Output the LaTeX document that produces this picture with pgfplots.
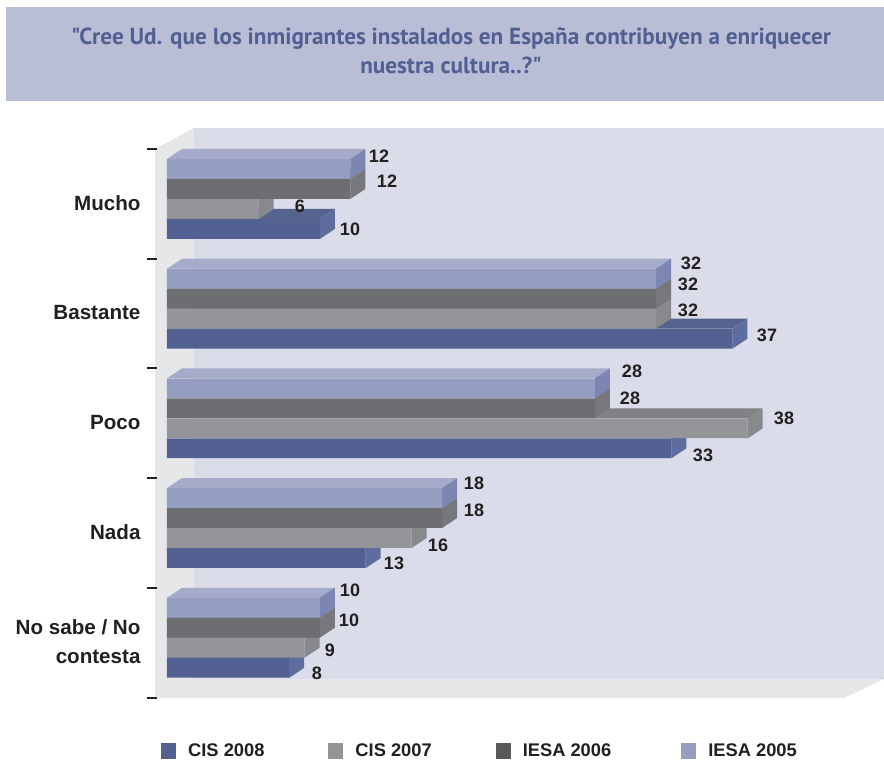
\documentclass[border=0pt]{standalone}
\usepackage{fontspec}
\usepackage{pgfplots}
\usepackage{pgfplotstable}
\pgfplotsset{compat=1.18}
\setmainfont{Liberation Sans}
\newfontfamily\titlefont{PT Sans}

\definecolor{band}{HTML}{B9BDD6}
\definecolor{titleblue}{HTML}{525F92}
\definecolor{wall}{HTML}{DADCEA}
\definecolor{floorgray}{HTML}{E6E7E8}
\definecolor{ink}{HTML}{231F20}
\definecolor{frontA}{HTML}{526092}
\definecolor{topA}{HTML}{56638F}
\definecolor{sideA}{HTML}{5F6C9E}
\definecolor{frontB}{HTML}{939598}
\definecolor{topB}{HTML}{808285}
\definecolor{sideB}{HTML}{87898C}
\definecolor{frontC}{HTML}{6D6E71}
\definecolor{topC}{HTML}{6D6E71}
\definecolor{sideC}{HTML}{77787B}
\definecolor{frontD}{HTML}{959EC0}
\definecolor{topD}{HTML}{A6ABC9}
\definecolor{sideD}{HTML}{7D86B0}
\definecolor{swatchC}{HTML}{58595B}

% one table per series, row = category
\pgfplotstableread{
cat val
0 10
1 37
2 33
3 13
4 8
}\cisoeight
\pgfplotstableread{
cat val
0 6
1 32
2 38
3 16
4 9
}\cisoseven
\pgfplotstableread{
cat val
0 12
1 32
2 28
3 18
4 10
}\iesaosix
\pgfplotstableread{
cat val
0 12
1 32
2 28
3 18
4 10
}\iesaofive

% 3d faces of one series: table, shift in px, top colour, side colour
\newcommand{\faces}[4]{%
  \pgfplotsinvokeforeach{0,...,4}{%
    \pgfplotstablegetelem{##1}{val}\of{#1}%
    \pgfmathsetmacro{\xa}{\pgfplotsretval}%
    \pgfmathsetmacro{\xb}{\xa+15/15.28}%
    \pgfmathsetmacro{\dd}{15/15.28}%
    \pgfmathsetmacro{\yt}{##1+(#2-10)/109.7}%
    \pgfmathsetmacro{\yb}{##1+(#2+10)/109.7}%
    \pgfmathsetmacro{\ytt}{\yt-10/109.7}%
    \pgfmathsetmacro{\ybb}{\yb-10/109.7}%
    \addplot[fill=#3,draw=none,forget plot] coordinates {(0,\yt) (\xa,\yt) (\xb,\ytt) (\dd,\ytt)} -- cycle;
    \addplot[fill=#4,draw=none,forget plot] coordinates {(\xa,\yt) (\xb,\ytt) (\xb,\ybb) (\xa,\yb)} -- cycle;
  }%
}

\begin{document}
\begin{tikzpicture}
\begin{scope}[x=1pt,y=-1pt,shift={(0pt,761pt)}]
\path[use as bounding box] (0,0) rectangle (884,761);
\fill[band] (6,7) rectangle (884,101);
\fill[wall] (194,128) rectangle (884,679);
\fill[floorgray] (155,149) -- (194,128) -- (194,679) -- (884,679) -- (844,698) -- (155,698) -- cycle;
\end{scope}

\begin{axis}[
    at={(157pt,63pt)},
    anchor=south west,
    scale only axis,
    width=727pt,
    height=570pt,
    xmin=-0.654, xmax=46.92,
    ymin=-0.647, ymax=4.549,
    y dir=reverse,
    axis x line=none,
    axis y line=left,
    y axis line style={draw=none},
    ytick={0,1,2,3,4},
    yticklabels={Mucho,Bastante,Poco,Nada,{No sabe / No\\contesta}},
    minor ytick={-0.456,0.547,1.541,2.543,3.546,4.549},
    major tick length=0pt,
    minor tick length=10pt,
    tick align=outside,
    minor tick style={draw=ink,line width=1.8pt},
    yticklabel style={font=\fontsize{20.6}{29}\selectfont\bfseries,text=ink,align=right,xshift=-13pt,yshift=-4pt},
    clip=false,
    legend columns=4,
    legend cell align=left,
    legend style={at={(0.0055,-0.093)},anchor=west,draw=none,fill=none,inner sep=0pt,
      font=\fontsize{18.3}{20}\selectfont\bfseries,text=ink,
      /tikz/every odd column/.append style={column sep=10pt},
      /tikz/every even column/.append style={column sep=62pt}},
]
\faces{\cisoeight}{30}{topA}{sideA}
\addplot[xbar,bar width=19.7pt,bar shift=-30pt,fill=frontA,draw=none,legend image code/.code={\fill[frontA] (0pt,-8pt) rectangle (15pt,8pt);}] table[x=val,y=cat] {\cisoeight};
\addlegendentry{CIS 2008}
\faces{\cisoseven}{10}{topB}{sideB}
\addplot[xbar,bar width=19.7pt,bar shift=-10pt,fill=frontB,draw=none,legend image code/.code={\fill[frontB] (0pt,-8pt) rectangle (15pt,8pt);}] table[x=val,y=cat] {\cisoseven};
\addlegendentry{CIS 2007}
\faces{\iesaosix}{-10}{topC}{sideC}
\addplot[xbar,bar width=19.7pt,bar shift=10pt,fill=frontC,draw=none,legend image code/.code={\fill[swatchC] (0pt,-8pt) rectangle (15pt,8pt);}] table[x=val,y=cat] {\iesaosix};
\addlegendentry{IESA 2006\rule{6pt}{0pt}}
\faces{\iesaofive}{-30}{topD}{sideD}
\addplot[xbar,bar width=19.7pt,bar shift=30pt,fill=frontD,draw=none,legend image code/.code={\fill[frontD] (0pt,-8pt) rectangle (15pt,8pt);}] table[x=val,y=cat] {\iesaofive};
\addlegendentry{IESA 2005}
\end{axis}

\begin{scope}[x=1pt,y=-1pt,shift={(0pt,761pt)}]
\node[anchor=base,font=\titlefont\fontsize{23.2}{26}\selectfont\bfseries,text=titleblue] at (451,45) {"Cree Ud. que los inmigrantes instalados en España contribuyen a enriquecer};
\node[anchor=base,font=\titlefont\fontsize{23.2}{26}\selectfont\bfseries,text=titleblue] at (451,74) {nuestra cultura..?"};
\tikzset{val/.style={font=\fontsize{18}{20}\selectfont\bfseries,text=ink,inner sep=0pt}}
\node[val] at (379,156) {12};
\node[val] at (387,181) {12};
\node[val] at (300,206) {6};
\node[val] at (350,229) {10};
\node[val] at (691,263) {32};
\node[val] at (688,284) {32};
\node[val] at (688,310) {32};
\node[val] at (767,335) {37};
\node[val] at (632,371) {28};
\node[val] at (630,398) {28};
\node[val] at (784,418) {38};
\node[val] at (703,455) {33};
\node[val] at (474,483) {18};
\node[val] at (474,510) {18};
\node[val] at (438,545) {16};
\node[val] at (394,563) {13};
\node[val] at (350,590) {10};
\node[val] at (349,620) {10};
\node[val] at (330,650) {9};
\node[val] at (317,673) {8};
\end{scope}
\end{tikzpicture}
\end{document}
